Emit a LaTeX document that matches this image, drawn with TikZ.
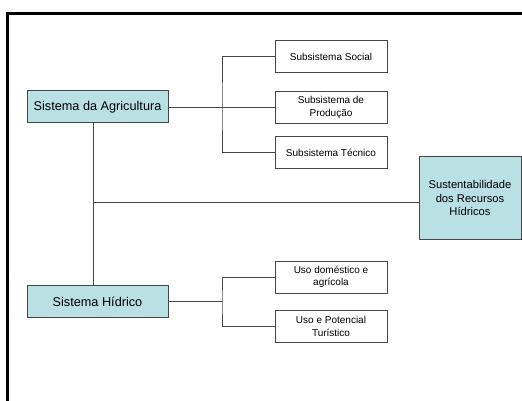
\documentclass[tikz,border=0pt]{standalone}
\usepackage{fontspec}
\setmainfont{Liberation Sans}
\usepackage{tikz}
\usetikzlibrary{positioning}

\definecolor{aqua}{RGB}{185,224,227}
\definecolor{linegray}{RGB}{70,70,70}

\tikzset{
  mainbox/.style={draw=linegray, fill=aqua, line width=1pt, inner sep=0pt,
    minimum width=141pt, minimum height=32pt,
    font=\fontsize{12.7}{15}\selectfont},
  subbox/.style={draw=linegray, fill=white, line width=1pt, inner sep=0pt,
    minimum width=112pt, minimum height=32pt, align=center,
    font=\fontsize{10}{12.5}\selectfont},
  goalbox/.style={draw=linegray, fill=aqua, line width=1pt, inner sep=0pt,
    minimum width=102pt, minimum height=82pt, align=center,
    font=\fontsize{11.2}{13.5}\selectfont},
  link/.style={draw=linegray, line width=1pt}
}

\begin{document}
\begin{tikzpicture}[x=1pt,y=-1pt]
\useasboundingbox (0,0) rectangle (522,401);

% frame
\draw[line width=3pt] (7.5,401) -- (7.5,13.5) -- (522,13.5);

% systems
\node[mainbox] (agric) at (97.5,107) {Sistema da Agricultura};
\node[mainbox] (hidrico) at (97.5,301.5) {Sistema Hídrico};
\node[goalbox] (sust) at (470,198) {Sustentabilidade\\dos Recursos\\Hídricos};

% subsystems
\node[subbox] (social) at (331,57) {Subsistema Social};
\node[subbox] (producao) at (331,107.5) {Subsistema de\\Produção};
\node[subbox] (tecnico) at (331,152.5) {Subsistema Técnico};
\node[subbox] (domestico) at (331,277) {Uso doméstico e\\agrícola};
\node[subbox] (turistico) at (331,326.5) {Uso e Potencial\\Turístico};

\coordinate (hub) at (93,202);
\coordinate (fork1) at (222,107.5);
\coordinate (fork2) at (222,301.5);

% connectors
\draw[link] (agric.south -| hub) -- (hidrico.north -| hub);
\draw[link] (hub) -- (hub -| sust.west);
\draw[link] (agric.east |- fork1) -- (producao.west);
\draw[link] (social.west) -| (fork1) |- (tecnico.west);
\draw[link] (hidrico.east) -- (fork2);
\draw[link] (domestico.west) -| (fork2) |- (turistico.west);

\end{tikzpicture}
\end{document}
